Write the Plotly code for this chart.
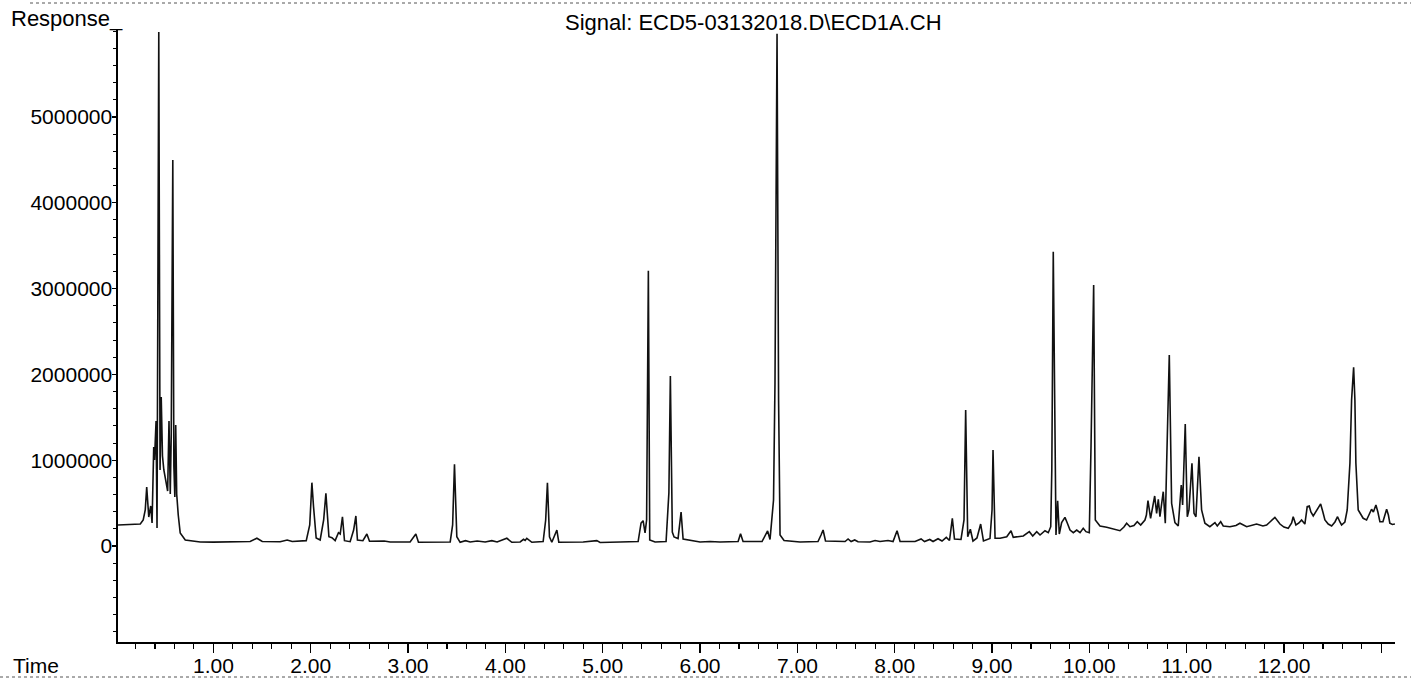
import plotly.graph_objects as go

# Chromatogram trace (time in min, response)
time_min = [
    0.02, 0.249, 0.279, 0.300, 0.315, 0.336, 0.356, 0.370, 0.387, 0.395, 0.411, 0.421, 0.439, 0.452,
    0.464, 0.477, 0.491, 0.512, 0.530, 0.544, 0.557, 0.567, 0.583, 0.594, 0.604, 0.613, 0.623, 0.639,
    0.659, 0.711, 0.865, 1.000, 1.172, 1.378, 1.447, 1.502, 1.686, 1.758, 1.810, 1.954, 1.990, 2.012,
    2.029, 2.056, 2.097, 2.133, 2.156, 2.172, 2.187, 2.218, 2.251, 2.285, 2.303, 2.326, 2.347, 2.405,
    2.441, 2.464, 2.480, 2.536, 2.577, 2.604, 2.755, 2.816, 3.021, 3.080, 3.107, 3.433, 3.458, 3.477,
    3.501, 3.535, 3.590, 3.638, 3.710, 3.792, 3.861, 3.915, 4.015, 4.066, 4.152, 4.186, 4.203, 4.220,
    4.272, 4.388, 4.414, 4.432, 4.453, 4.477, 4.506, 4.529, 4.549, 4.716, 4.799, 4.939, 4.973, 5.178,
    5.364, 5.394, 5.415, 5.435, 5.451, 5.469, 5.483, 5.538, 5.651, 5.680, 5.695, 5.715, 5.733, 5.774,
    5.790, 5.805, 5.826, 6.000, 6.103, 6.205, 6.391, 6.416, 6.442, 6.637, 6.694, 6.719, 6.755, 6.770,
    6.791, 6.807, 6.822, 6.863, 7.027, 7.212, 7.243, 7.264, 7.289, 7.490, 7.521, 7.552, 7.589, 7.623,
    7.746, 7.798, 7.849, 7.931, 7.983, 8.024, 8.055, 8.209, 8.271, 8.306, 8.360, 8.394, 8.445, 8.486,
    8.530, 8.563, 8.592, 8.614, 8.681, 8.712, 8.729, 8.750, 8.777, 8.804, 8.845, 8.883, 8.912, 8.979,
    9.000, 9.010, 9.031, 9.082, 9.151, 9.195, 9.218, 9.321, 9.383, 9.418, 9.459, 9.493, 9.544, 9.578,
    9.603, 9.614, 9.629, 9.647, 9.657, 9.674, 9.691, 9.715, 9.734, 9.749, 9.773, 9.801, 9.835, 9.870,
    9.904, 9.937, 9.965, 9.999, 10.017, 10.044, 10.061, 10.109, 10.178, 10.246, 10.314, 10.355, 10.383,
    10.417, 10.458, 10.492, 10.527, 10.571, 10.586, 10.602, 10.629, 10.671, 10.691, 10.708, 10.725,
    10.759, 10.780, 10.794, 10.821, 10.845, 10.879, 10.913, 10.931, 10.944, 10.958, 10.972, 10.985,
    11.006, 11.023, 11.054, 11.075, 11.095, 11.126, 11.153, 11.187, 11.238, 11.290, 11.314, 11.349,
    11.375, 11.444, 11.506, 11.547, 11.616, 11.660, 11.718, 11.783, 11.821, 11.855, 11.906, 11.958,
    11.999, 12.043, 12.078, 12.094, 12.122, 12.153, 12.180, 12.214, 12.238, 12.259, 12.276, 12.300,
    12.334, 12.376, 12.399, 12.420, 12.454, 12.489, 12.523, 12.550, 12.574, 12.591, 12.625, 12.649,
    12.677, 12.694, 12.715, 12.728, 12.738, 12.762, 12.813, 12.848, 12.872, 12.899, 12.918, 12.944,
    12.964, 12.985, 13.016, 13.054, 13.072, 13.087, 13.113, 13.139,
]

response = [
    245000, 256000, 303000, 420000, 688000, 338000, 466000, 268000, 1154000, 1002000, 1457000, 210000, 5990000, 886000,
    1737000, 1049000, 886000, 723000, 641000, 1457000, 606000, 1294000, 4500000, 932000, 571000, 1410000, 606000, 361000,
    152000, 70000, 47000, 45000, 50000, 52000, 90000, 52000, 50000, 70000, 52000, 62000, 245000, 738000,
    458000, 93000, 70000, 303000, 614000, 341000, 108000, 97000, 62000, 155000, 140000, 341000, 62000, 50000,
    186000, 350000, 70000, 62000, 140000, 55000, 58000, 47000, 47000, 140000, 43000, 47000, 245000, 952000,
    108000, 43000, 62000, 47000, 58000, 47000, 62000, 47000, 90000, 43000, 47000, 78000, 64000, 90000,
    43000, 52000, 303000, 738000, 108000, 43000, 117000, 186000, 43000, 43000, 47000, 62000, 41000, 47000,
    52000, 268000, 295000, 152000, 303000, 3209000, 70000, 47000, 52000, 622000, 1981000, 163000, 105000, 87000,
    245000, 396000, 82000, 47000, 52000, 47000, 52000, 143000, 52000, 52000, 175000, 76000, 536000, 1900000,
    5970000, 1700000, 128000, 64000, 47000, 52000, 128000, 186000, 58000, 52000, 82000, 52000, 70000, 49000,
    47000, 64000, 52000, 64000, 52000, 178000, 52000, 52000, 82000, 52000, 76000, 52000, 85000, 58000,
    101000, 64000, 323000, 82000, 76000, 303000, 1585000, 108000, 195000, 58000, 93000, 256000, 58000, 87000,
    420000, 1119000, 90000, 90000, 108000, 178000, 101000, 117000, 167000, 117000, 167000, 128000, 178000, 155000,
    225000, 886000, 3430000, 583000, 128000, 528000, 140000, 272000, 303000, 334000, 268000, 186000, 155000, 186000,
    155000, 206000, 167000, 155000, 1166000, 3042000, 303000, 233000, 218000, 198000, 178000, 221000, 265000,
    225000, 239000, 283000, 245000, 303000, 361000, 528000, 323000, 583000, 381000, 544000, 341000,
    633000, 265000, 964000, 2226000, 498000, 272000, 233000, 466000, 711000, 478000, 1002000, 1422000,
    341000, 420000, 964000, 381000, 341000, 1041000, 420000, 265000, 225000, 272000, 233000, 283000,
    233000, 225000, 239000, 265000, 225000, 239000, 256000, 233000, 245000, 280000, 334000, 256000,
    221000, 206000, 268000, 341000, 245000, 268000, 303000, 256000, 458000, 466000, 396000, 350000,
    420000, 490000, 396000, 303000, 256000, 233000, 280000, 341000, 280000, 245000, 280000, 420000,
    967000, 1702000, 2083000, 1702000, 967000, 420000, 323000, 303000, 361000, 428000, 396000, 478000,
    396000, 283000, 283000, 428000, 361000, 265000, 251000, 256000,
]

x_tick_values = [1, 2, 3, 4, 5, 6, 7, 8, 9, 10, 11, 12, 13]
x_tick_labels = ["1.00", "2.00", "3.00", "4.00", "5.00", "6.00", "7.00", "8.00",
                 "9.00", "10.00", "11.00", "12.00", ""]
y_tick_values = [0, 1000000, 2000000, 3000000, 4000000, 5000000]
y_tick_labels = ["0", "1000000", "2000000", "3000000", "4000000", "5000000"]

title_text = "Signal: ECD5-03132018.D\\ECD1A.CH"
y_label = "Response_"
x_label = "Time"

FONT = "Liberation Sans, Arial, sans-serif"

fig = go.Figure()
fig.add_trace(go.Scatter(
    x=time_min, y=response, mode="lines",
    line=dict(color="#111111", width=1.6),
    showlegend=False, hoverinfo="skip",
))

W, H = 1411, 685
L, R, T, B = 118, 16, 30, 43

fig.update_layout(
    width=W, height=H,
    margin=dict(l=L, r=R, t=T, b=B, pad=0, autoexpand=False),
    paper_bgcolor="white", plot_bgcolor="white",
    font=dict(family=FONT, size=21, color="black"),
    showlegend=False,
)

fig.update_xaxes(
    range=[0.02, 13.14], automargin=False,
    tickmode="array", tickvals=x_tick_values, ticktext=x_tick_labels,
    ticks="outside", ticklen=9, tickwidth=1.3, tickcolor="black",
    ticklabelstandoff=-5,
    minor=dict(tickmode="linear", tick0=0, dtick=0.2, ticks="outside",
               ticklen=5, tickwidth=1.1, tickcolor="black", showgrid=False),
    showline=True, linecolor="black", linewidth=1.6,
    showgrid=False, zeroline=False,
    tickfont=dict(family=FONT, size=21, color="black"),
)

fig.update_yaxes(
    range=[-1119000, 6014000], automargin=False,
    tickmode="array", tickvals=y_tick_values, ticktext=y_tick_labels,
    ticks="outside", ticklen=4, tickwidth=1.2, tickcolor="black",
    ticklabelstandoff=-4,
    minor=dict(tickmode="linear", tick0=0, dtick=200000, ticks="outside",
               ticklen=3, tickwidth=1, tickcolor="black", showgrid=False),
    showline=True, linecolor="black", linewidth=1.6,
    showgrid=False, zeroline=False,
    tickfont=dict(family=FONT, size=21, color="black"),
)

pw = W - L - R
ph = H - T - B

def px_x(px):
    return (px - L) / pw

def px_y(py):
    return (H - B - py) / ph

fig.add_annotation(text=y_label, xref="paper", yref="paper",
                   x=px_x(9), y=px_y(18), xanchor="left", yanchor="middle",
                   showarrow=False, font=dict(family=FONT, size=22, color="black"))
fig.add_annotation(text=x_label, xref="paper", yref="paper",
                   x=px_x(11), y=px_y(665), xanchor="left", yanchor="middle",
                   showarrow=False, font=dict(family=FONT, size=21, color="black"))
fig.add_annotation(text=title_text, xref="paper", yref="paper",
                   x=px_x(753), y=px_y(22), xanchor="center", yanchor="middle",
                   showarrow=False, font=dict(family=FONT, size=22, color="black"))

# faint dotted page edges seen in the scan
fig.add_shape(type="line", xref="paper", yref="paper",
              x0=px_x(30), x1=px_x(1411), y0=px_y(3), y1=px_y(3),
              line=dict(color="#555555", width=1, dash="dot"))
fig.add_shape(type="line", xref="paper", yref="paper",
              x0=px_x(0), x1=px_x(1411), y0=px_y(677), y1=px_y(677),
              line=dict(color="#555555", width=1, dash="dot"))

fig.write_html(
    "out.html",
    config={"displayModeBar": False, "staticPlot": True},
    post_script="document.body.style.margin='0';document.body.style.overflow='hidden';",
)
